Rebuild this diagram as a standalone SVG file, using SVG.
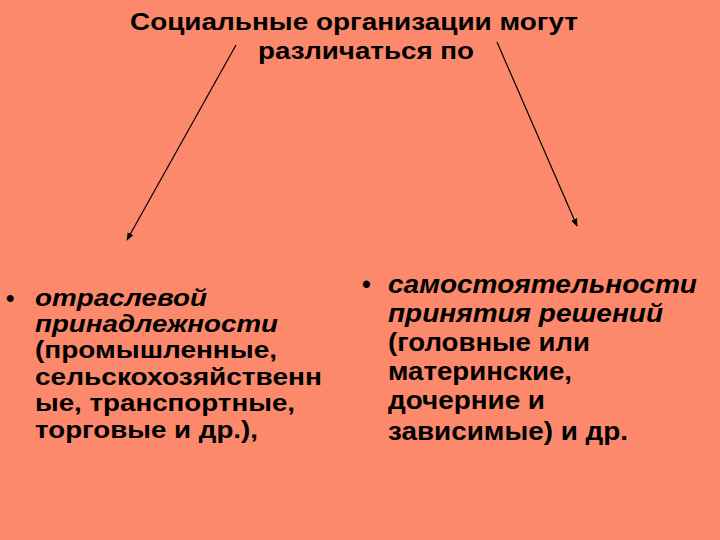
<svg xmlns="http://www.w3.org/2000/svg" width="720" height="540" viewBox="0 0 720 540">
<defs>
<style>
.t{font-family:"Liberation Sans",Arial,sans-serif;font-weight:bold;fill:#000}
.i{font-style:italic}
.c{stroke:#000;stroke-width:1.2;fill:none}
</style>
<marker id="ah" viewBox="0 0 10 10" refX="9" refY="5" markerWidth="8" markerHeight="8" orient="auto" markerUnits="userSpaceOnUse">
<path d="M0,1 L10,5 L0,9 Z" fill="#000"/>
</marker>
</defs>
<rect width="720" height="540" fill="#FC896B"/>
<g id="title" class="t" font-size="24">
<text x="130" y="30" textLength="448" lengthAdjust="spacingAndGlyphs">Социальные организации могут</text>
<text x="258" y="59" textLength="216" lengthAdjust="spacingAndGlyphs">различаться по</text>
</g>
<g id="connectors">
<line class="c" x1="236" y1="45" x2="127" y2="240" marker-end="url(#ah)"/>
<line class="c" x1="497" y1="42" x2="577" y2="226" marker-end="url(#ah)"/>
</g>
<g id="left" class="t" font-size="24">
<text x="6" y="306">•</text>
<text x="35" y="306" class="i" textLength="172" lengthAdjust="spacingAndGlyphs">отраслевой</text>
<text x="35" y="332" class="i" textLength="243" lengthAdjust="spacingAndGlyphs">принадлежности</text>
<text x="35" y="358" textLength="242" lengthAdjust="spacingAndGlyphs">(промышленные,</text>
<text x="35" y="385" textLength="287" lengthAdjust="spacingAndGlyphs">сельскохозяйственн</text>
<text x="35" y="411" textLength="260" lengthAdjust="spacingAndGlyphs">ые, транспортные,</text>
<text x="35" y="438" textLength="223" lengthAdjust="spacingAndGlyphs">торговые и др.),</text>
</g>
<g id="right" class="t" font-size="25">
<text x="362" y="293">•</text>
<text x="388" y="293" class="i" textLength="309" lengthAdjust="spacingAndGlyphs">самостоятельности</text>
<text x="388" y="322" class="i" textLength="275" lengthAdjust="spacingAndGlyphs">принятия решений</text>
<text x="388" y="351" textLength="202" lengthAdjust="spacingAndGlyphs">(головные или</text>
<text x="388" y="380" textLength="184" lengthAdjust="spacingAndGlyphs">материнские,</text>
<text x="388" y="409" textLength="157" lengthAdjust="spacingAndGlyphs">дочерние и</text>
<text x="388" y="440" textLength="240" lengthAdjust="spacingAndGlyphs">зависимые) и др.</text>
</g>
</svg>
